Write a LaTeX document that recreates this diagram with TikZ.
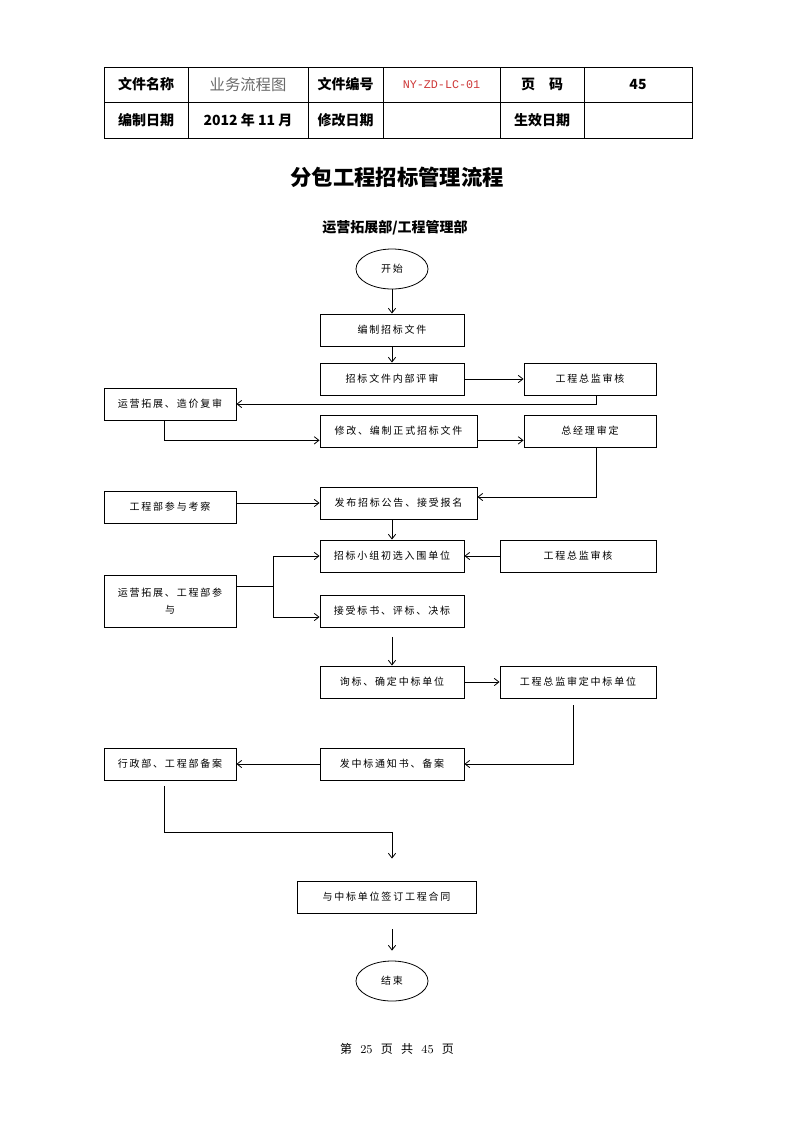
\documentclass[tikz,border=0pt]{standalone}
\usepackage{fontspec}
\usetikzlibrary{shapes.geometric, arrows.meta}
\newfontfamily\cjk{Noto Sans CJK SC}
\newfontfamily\boxfont[LetterSpace=18]{Noto Sans CJK SC}
\newfontfamily\codefont{Liberation Mono}
\definecolor{docred}{RGB}{205,55,55}
\definecolor{docgray}{RGB}{105,105,105}

\begin{document}
\begin{tikzpicture}[x=0.75pt, y=-0.75pt, >={Straight Barb[length=3.5pt, width=5.5pt]},
    flowbox/.style={draw, line width=0.7pt, minimum height=24pt, inner sep=0pt,
                    font=\boxfont\fontsize{7.5}{13}\selectfont},
    endpoint/.style={draw, ellipse, line width=0.6pt, minimum width=54pt,
                     minimum height=30pt, inner sep=0pt,
                     font=\boxfont\fontsize{7.5}{9}\selectfont},
    cell/.style={font=\cjk\bfseries\fontsize{10.5}{12}\selectfont},
    link/.style={line width=0.6pt}]
    \useasboundingbox (0,0) rectangle (793,1122);

    % Table head.
    \draw[line width=0.6pt] (104,67) rectangle (692,138);
    \draw[line width=0.6pt] (104,102) -- (692,102);
    \foreach \x in {188,308,383,500,584}
        \draw[line width=0.6pt] (\x,67) -- (\x,138);

    \node[cell] (namekey)  at (146  , 84.5) {文件名称};
    \node[font=\cjk\fontsize{11.5}{13}\selectfont, text=docgray]
                (nameval)  at (248  , 84.5) {业务流程图};
    \node[cell] (codekey)  at (345.5, 84.5) {文件编号};
    \node[font=\codefont\fontsize{8.8}{10}\selectfont, text=docred]
                (codeval)  at (441.5, 84.5) {NY-ZD-LC-01};
    \node[cell] (pagekey)  at (542  , 84.5) {页\hspace{1em}码};
    \node[cell] (pageval)  at (638  , 84.5) {45};
    \node[cell] (datekey)  at (146  , 120) {编制日期};
    \node[cell] (dateval)  at (248  , 120) {2012 年 11 月};
    \node[cell] (editkey)  at (345.5, 120) {修改日期};
    \node[cell] (validkey) at (542  , 120) {生效日期};

    % Titles.
    \node[font=\cjk\bfseries\fontsize{16}{18}\selectfont] (title) at (397,177) {分包工程招标管理流程};
    \node[cell] (dept) at (395,228) {运营拓展部/工程管理部};

    % Main column.
    \node[endpoint] (start) at (392,269) {开始};
    \node[flowbox, minimum width=108pt]    (draft)     at (392  ,330) {编制招标文件};
    \node[flowbox, minimum width=108pt]    (review)    at (392  ,379) {招标文件内部评审};
    \node[flowbox, minimum width=117.75pt] (revise)    at (398.5,431) {修改、编制正式招标文件};
    \node[flowbox, minimum width=117.75pt] (publish)   at (398.5,503) {发布招标公告、接受报名};
    \node[flowbox, minimum width=108pt]    (shortlist) at (392  ,556) {招标小组初选入围单位};
    \node[flowbox, minimum width=108pt]    (accept)    at (392  ,611) {接受标书、评标、决标};
    \node[flowbox, minimum width=108pt]    (inquire)   at (392  ,682) {询标、确定中标单位};
    \node[flowbox, minimum width=108pt]    (notice)    at (392  ,764) {发中标通知书、备案};
    \node[flowbox, minimum width=134.25pt] (contract)  at (386.5,897) {与中标单位签订工程合同};
    \node[endpoint] (finish) at (392,981) {结束};

    % Left column.
    \node[flowbox, minimum width=99pt] (expand)  at (170,404) {运营拓展、造价复审};
    \node[flowbox, minimum width=99pt] (inspect) at (170,507) {工程部参与考察};
    \node[flowbox, minimum width=99pt, minimum height=39pt, align=center]
                                       (joint)   at (170,601) {运营拓展、工程部参\\与};
    \node[flowbox, minimum width=99pt] (record)  at (170,764) {行政部、工程部备案};

    % Right column.
    \node[flowbox, minimum width=99pt]  (chief1) at (590,379) {工程总监审核};
    \node[flowbox, minimum width=99pt]  (gm)     at (590,431) {总经理审定};
    \node[flowbox, minimum width=117pt] (chief2) at (578,556) {工程总监审核};
    \node[flowbox, minimum width=117pt] (chief3) at (578,682) {工程总监审定中标单位};

    % Footer.
    \node[font=\fontsize{9}{11}\selectfont] (pageno) at (397,1049)
        {{\cjk 第}\ \ 25\ \ {\cjk 页}\ \ {\cjk 共}\ \ 45\ \ {\cjk 页}};

    % Connectors.
    \coordinate (fork) at (273,586);
    \coordinate (bend) at (392,832);

    \draw[link,->] (start) -- (draft);
    \draw[link,->] (draft) -- (review);
    \draw[link,->] (review) -- (chief1);
    \draw[link,->] ([xshift=5pt]chief1.south) |- (expand.east);
    \draw[link,->] ([xshift=-4.5pt]expand.south) |- ([yshift=-7pt]revise.west);
    \draw[link,->] ([yshift=-7pt]revise.east) -- ([yshift=-7pt]gm.west);
    \draw[link,->] ([xshift=5pt]gm.south) |- ([yshift=4.5pt]publish.east);
    \draw[link,->] (inspect.east |- publish.west) -- (publish.west);
    \draw[link,->] (publish.south -| shortlist) -- (shortlist.north);
    \draw[link,->] (chief2) -- (shortlist);
    \draw[link] (joint.east |- fork) -- (fork);
    \draw[link,->] (fork) |- (shortlist.west);
    \draw[link,->] (fork) |- ([yshift=-4.5pt]accept.west);
    \draw[link,->, shorten <=7pt] (accept) -- (inquire);
    \draw[link,->] (inquire) -- (chief3);
    \draw[link,->, shorten <=5pt] ([xshift=-3.75pt]chief3.south) |- (notice.east);
    \draw[link,->] (notice) -- (record);
    \draw[link, shorten <=4pt] ([xshift=-4.5pt]record.south) |- (bend);
    \draw[link,->, shorten >=16.5pt] (bend) -- (bend |- contract.north);
    \draw[link,->, shorten <=12pt, shorten >=7.5pt] (contract.south -| finish) -- (finish.north);
\end{tikzpicture}
\end{document}
